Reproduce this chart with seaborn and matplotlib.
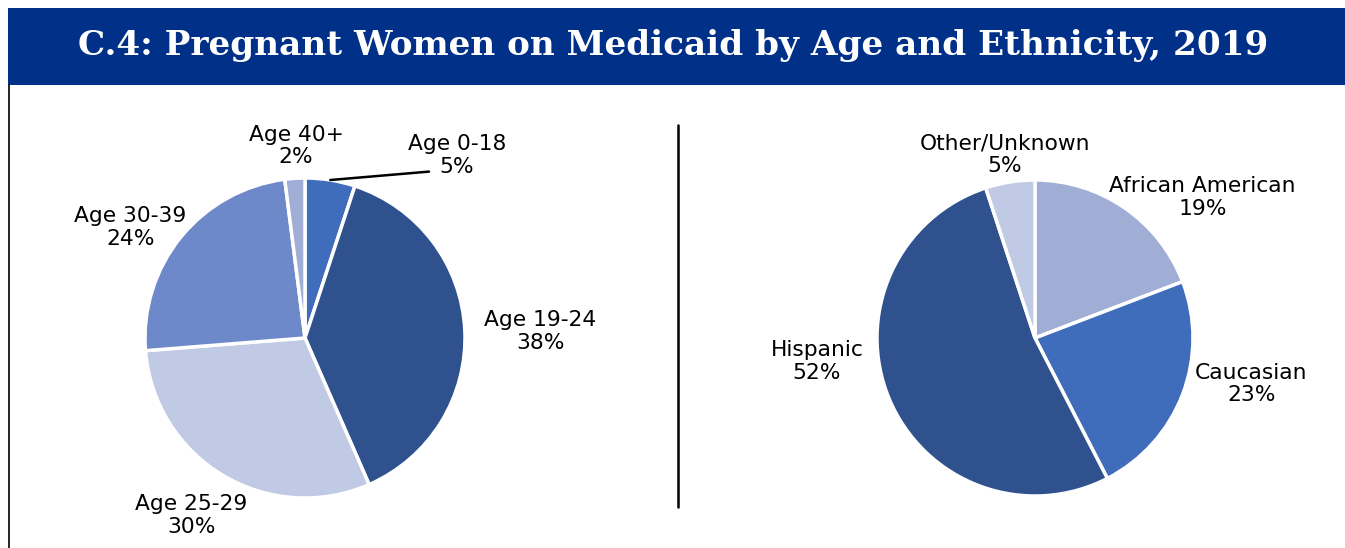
import matplotlib
matplotlib.use("Agg")
import matplotlib.pyplot as plt
import seaborn as sns
import numpy as np
from matplotlib.patches import Rectangle

# data
age_groups = ["Age 0-18", "Age 19-24", "Age 25-29", "Age 30-39", "Age 40+"]
age_pct = [5, 38, 30, 24, 2]
eth_groups = ["African American", "Caucasian", "Hispanic", "Other/Unknown"]
eth_pct = [19, 23, 52, 5]

title = "C.4: Pregnant Women on Medicaid by Age and Ethnicity, 2019"

# colours
navy = "#003087"
dark = "#2F528F"
mid = "#3F6DBC"
mid2 = "#6E89C9"
light = "#A0AED6"
pale = "#C0CAE4"
age_colors = [mid, dark, pale, mid2, light]
eth_colors = [light, mid, dark, pale]

# label offsets in units of radius (layout only)
age_lab = [(0.95, 1.14), (1.47, 0.04), (-0.71, -1.11), (-1.09, 0.69), (-0.056, 1.2)]
eth_lab = [(1.06, 0.89), (1.37, -0.29), (-1.38, -0.15), (-0.19, 1.16)]

sns.set_theme(style="white")
plt.rcParams["font.family"] = ["DejaVu Sans"]

W, H = 1345, 548
fig = plt.figure(figsize=(W / 100, H / 100), dpi=100)
ax = fig.add_axes([0, 0, 1, 1])


def draw_pie(vals, colors, labels, offs, cx, cy, r, leader=None):
    wedges, _ = ax.pie(vals, colors=colors, startangle=90, counterclock=False,
                       radius=r, center=(cx, cy), normalize=True,
                       wedgeprops=dict(edgecolor="white", linewidth=2.5))
    for i, (lab, v, (dx, dy)) in enumerate(zip(labels, vals, offs)):
        tx, ty = cx + dx * r, cy + dy * r
        ax.text(tx, ty, f"{lab}\n{v}%", ha="center", va="center",
                fontsize=15.7, linespacing=1.15, color="black")
        if leader == i:
            w = wedges[i]
            ang = np.deg2rad((w.theta1 + w.theta2) / 2)
            ax.plot([cx + r * np.cos(ang), tx - 28], [cy + r * np.sin(ang), ty - 16],
                    color="black", lw=1.8)


draw_pie(age_pct, age_colors, age_groups, age_lab, 305, H - 338, 160, leader=0)
draw_pie(eth_pct, eth_colors, eth_groups, eth_lab, 1035, H - 338, 158)

# banner
ax.add_patch(Rectangle((8, H - 85), W - 8, 77, facecolor=navy, edgecolor="none"))
ax.text(673, H - 46, title, ha="center", va="center", color="white",
        fontsize=24.7, fontweight="bold", family="DejaVu Serif")

# frame line on left and divider
ax.plot([8.5, 8.5], [0, H - 85], color="black", lw=1.2)
ax.plot([678, 678], [H - 507, H - 125], color="black", lw=1.8)

ax.set_xlim(0, W)
ax.set_ylim(0, H)
ax.set_aspect("auto")
ax.axis("off")

fig.savefig("out.png", dpi=100)
